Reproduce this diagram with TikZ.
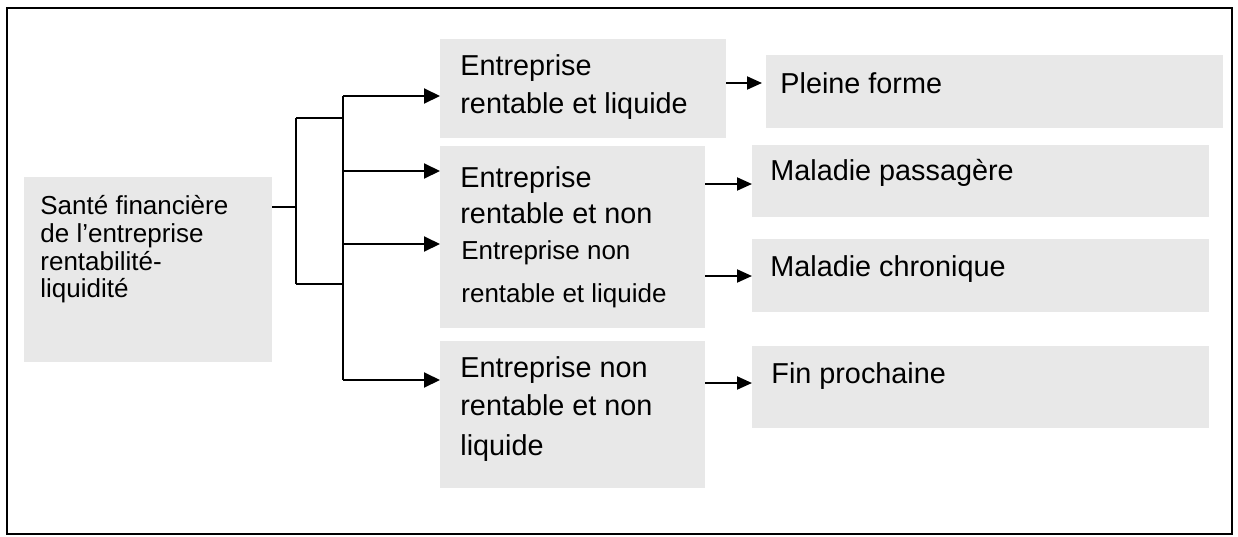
\documentclass[tikz,border=0pt]{standalone}
\usepackage{fontspec}
\setmainfont{Liberation Sans}
\usetikzlibrary{arrows.meta}
\definecolor{boxgray}{HTML}{E8E8E8}
\tikzset{
  box/.style={rectangle, fill=boxgray, draw=none, inner sep=0pt, outer sep=0pt},
  big/.style={anchor=base west, inner sep=0pt, font=\fontsize{14.4}{17}\selectfont},
  small/.style={anchor=base west, inner sep=0pt, font=\fontsize{13}{15}\selectfont},
  link/.style={line width=1pt, black},
  arr/.style={line width=1pt, black, -{Triangle[length=8pt,width=7.5pt]}},
  arrs/.style={line width=1pt, black, -{Triangle[length=7.5pt,width=6.5pt]}},
}
\begin{document}
\begin{tikzpicture}[x=0.5pt,y=-0.5pt]
\useasboundingbox (0,0) rectangle (1238,536);
\draw[line width=1pt] (7,8) rectangle (1232,534);

% boxes
\node[box, minimum width=124pt, minimum height=92.5pt] (src) at (148,269.5) {};
\node[box, minimum width=143pt, minimum height=49.5pt] (b1) at (583,88.5) {};
\node[box, minimum width=132.5pt, minimum height=91pt] (b2) at (572.5,237) {};
\node[box, minimum width=132.5pt, minimum height=73.5pt] (b4) at (572.5,414.5) {};
\node[box, minimum width=228.5pt, minimum height=36.5pt] (r1) at (994.5,91.5) {};
\node[box, minimum width=228.5pt, minimum height=36pt] (r2) at (980.5,181) {};
\node[box, minimum width=228.5pt, minimum height=36.5pt] (r3) at (980.5,275.5) {};
\node[box, minimum width=228.5pt, minimum height=41pt] (r4) at (980.5,387) {};

% texts
\node[small] (s1) at (40,214) {Santé financière};
\node[small] (s2) at (40,242) {de l’entreprise};
\node[small] (s3) at (40,270) {rentabilité-};
\node[small] (s4) at (40,297) {liquidité};

\node[big] (t11) at (460,75) {Entreprise};
\node[big] (t12) at (460,113) {rentable et liquide};

\node[big] (t21) at (460,187) {Entreprise};
\node[big] (t22) at (460,223) {rentable et non};
\node[small] (t31) at (461,259) {Entreprise non};
\node[small] (t32) at (461,302) {rentable et liquide};

\node[big] (t41) at (460,377) {Entreprise non};
\node[big] (t42) at (460,415) {rentable et non};
\node[big] (t43) at (460,455) {liquide};

\node[big] (u1) at (780,93) {Pleine forme};
\node[big] (u2) at (770,180) {Maladie passagère};
\node[big] (u3) at (770,276) {Maladie chronique};
\node[big] (u4) at (771,383) {Fin prochaine};

% junction coordinates
\coordinate (j0) at (296,207);
\coordinate (ja) at (296,118);
\coordinate (jb) at (296,284);
\coordinate (ka) at (343,118);
\coordinate (kb) at (343,284);
\coordinate (a1) at (343,96);
\coordinate (a2) at (343,171);
\coordinate (a3) at (343,244);
\coordinate (a4) at (343,380);
\coordinate (c1) at (726,83);
\coordinate (c2) at (705,184);
\coordinate (c3) at (705,276);
\coordinate (c4) at (705,383);

% tree connectors
\draw[link] (src.east |- j0) -- (j0);
\draw[link] (ja) -- (jb);
\draw[link] (ja) -- (ka);
\draw[link] (jb) -- (kb);
\draw[link] (a1) -- (a4);
\draw[arr] (a1) -- (b1.west |- a1);
\draw[arr] (a2) -- (b2.west |- a2);
\draw[arr] (a3) -- (b2.west |- a3);
\draw[arr] (a4) -- (b4.west |- a4);

% right arrows
\draw[arrs] (b1.east |- c1) -- ([xshift=-2pt]r1.west |- c1);
\draw[arrs] (b2.east |- c2) -- (r2.west |- c2);
\draw[arrs] (b2.east |- c3) -- (r3.west |- c3);
\draw[arrs] (b4.east |- c4) -- (r4.west |- c4);
\end{tikzpicture}
\end{document}
